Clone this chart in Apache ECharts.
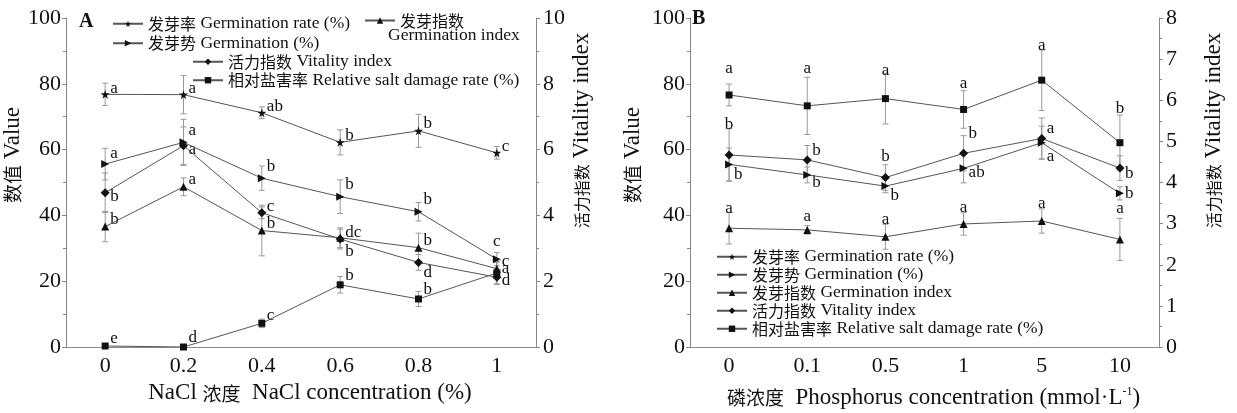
<!DOCTYPE html>
<html>
<head>
<meta charset="utf-8">
<title>Germination under NaCl and phosphorus</title>
<script src="https://cdn.jsdelivr.net/npm/echarts@6/dist/echarts.min.js"></script>
<style>
  html, body { margin: 0; padding: 0; background: #fff; }
  #chart { width: 1237px; height: 413px; }
</style>
</head>
<body>
<div id="chart"></div>
<script>
// series names (shared by both panels so the legends line up)
var N_RATE = '发芽率 Germination rate (%)'
var N_GERM = '发芽势 Germination (%)'
var N_INDEX = '发芽指数 Germination index'
var N_VIT = '活力指数 Vitality index'
var N_SALT = '相对盐害率 Relative salt damage rate (%)'

// ---- panel A: NaCl concentration ----
var naclCats = ['0', '0.2', '0.4', '0.6', '0.8', '1']
var aRate = [76.8, 76.7, 71.2, 62.2, 65.7, 59.0]
var aRateErr = [3.4, 5.8, 1.8, 3.8, 5.0, 1.9]
var aRateSig = ['a', 'a', 'ab', 'b', 'b', 'c']
var aGerm = [55.6, 62.2, 51.3, 45.7, 41.1, 26.7]
var aGermErr = [4.8, 7.0, 3.7, 5.1, 2.8, 2.0]
var aGermSig = ['a', 'a', 'b', 'b', 'b', 'c']
var aIndex = [36.6, 48.7, 35.4, 33.2, 30.2, 23.8]
var aIndexErr = [4.6, 2.7, 7.7, 3.0, 4.4, 2.0]
var aIndexSig = ['b', 'a', 'b', 'b', 'b', 'c']
var aVit = [4.69, 6.12, 4.08, 3.28, 2.57, 2.12] // right axis
var aVitErr = [0.6, 0.57, 0.18, 0.3, 0.24, 0.2]
var aVitSig = ['b', 'a', 'c', 'dc', 'd', 'd']
var aSalt = [0.3, 0, 7.2, 18.9, 14.6, 22.5]
var aSaltErr = [0, 0, 1.3, 2.5, 2.3, 3.5]
var aSaltSig = ['e', 'd', 'c', 'b', 'b', 'a']

// ---- panel B: phosphorus concentration ----
var phosCats = ['0', '0.1', '0.5', '1', '5', '10']
var bSalt = [76.6, 73.3, 75.5, 72.2, 81.1, 62.1]
var bSaltErr = [3.3, 8.7, 7.7, 5.7, 9.2, 8.4]
var bSaltSig = ['a', 'a', 'a', 'a', 'a', 'b']
var bVit = [4.67, 4.55, 4.12, 4.71, 5.07, 4.35] // right axis
var bVitErr = [0.64, 0.35, 0.31, 0.43, 0.5, 0.3]
var bVitSig = ['b', 'b', 'b', 'b', 'a', 'b']
var bGerm = [55.5, 52.3, 48.9, 54.3, 62.1, 46.7]
var bGermErr = [5.0, 2.4, 2.0, 4.4, 5.0, 2.0]
var bGermSig = ['b', 'b', 'b', 'ab', 'a', 'b']
var bIndex = [36.1, 35.6, 33.5, 37.4, 38.3, 32.7]
var bIndexErr = [4.8, 1.3, 3.8, 3.4, 3.7, 6.4]
var bIndexSig = ['a', 'a', 'a', 'a', 'a', 'a']

// where the significance letters sit, relative to each point (px)
// dx 0 = centred, otherwise left-aligned at dx
var posRateA = [[5, -6], [5, -6], [5, -6], [5, -7], [5, -7], [5, -6]]
var posGermA = [[5, -11], [5, -12], [5, -12], [5, -12], [5, -12], [0, -18]]
var posIndexA = [[5, -7], [5, -7], [5, -7], [5, 14], [5, -7], [5, -7]]
var posVitA = [[5, 4], [5, 4], [5, -6], [5, -7], [5, 10], [5, 3]]
var posSaltA = [[5, -7], [5, -9], [5, -8], [5, -9], [5, -9], [5, -4]]
var posSaltB = [[0, -26], [0, -37], [0, -28], [0, -26], [0, -35], [0, -34]]
var posVitB = [[0, -30], [5, -9], [0, -21], [5, -20], [5, -10], [5, 5]]
var posGermB = [[5, 10], [5, 8], [5, 9], [5, 4], [5, 14], [5, 0]]
var posIndexB = [[0, -20], [0, -13], [0, -17], [0, -16], [0, -17], [0, -31]]

var FONT = '"Liberation Serif", "Noto Sans CJK SC", serif'
var CJK = '"Noto Sans CJK SC", sans-serif'
var STAR = 'path://M50,0 L61,35 L98,35 L68,57 L79,91 L50,70 L21,91 L32,57 L2,35 L39,35 Z'

var markers = {}
markers[N_RATE] = { symbol: STAR, size: 9, rotate: 0 }
markers[N_GERM] = { symbol: 'triangle', size: 8, rotate: -90 }
markers[N_INDEX] = { symbol: 'triangle', size: 8, rotate: 0 }
markers[N_VIT] = { symbol: 'diamond', size: 9, rotate: 0 }
markers[N_SALT] = { symbol: 'rect', size: 7, rotate: 0 }

// chinese part of a bilingual label gets its own (smaller) style
function bi(label) {
  var k = label.indexOf(' ')
  return '{c|' + label.slice(0, k) + '}' + label.slice(k)
}

function lineSeries(name, values, grid, yIdx) {
  var m = markers[name]
  return {
    name: name,
    type: 'line',
    xAxisIndex: grid,
    yAxisIndex: yIdx,
    data: values,
    symbol: m.symbol,
    symbolSize: m.size,
    symbolRotate: m.rotate,
    showAllSymbol: true,
    lineStyle: { color: '#555', width: 1 },
    itemStyle: { color: '#111' },
    z: 3,
    animation: false
  }
}

// error bars plus significance letters
function errSeries(values, errs, sigs, pos, grid, yIdx) {
  return {
    type: 'custom',
    xAxisIndex: grid,
    yAxisIndex: yIdx,
    data: values.map(function (v, i) { return [i, v, errs[i]] }),
    encode: { x: 0, y: 1 },
    z: 2,
    silent: true,
    animation: false,
    renderItem: function (params, api) {
      var i = params.dataIndex
      var v = api.value(1)
      var e = api.value(2)
      var c = api.coord([i, v])
      var hi = api.coord([i, v + e])
      var lo = api.coord([i, v - e])
      var st = { stroke: '#999', lineWidth: 1 }
      var kids = []
      if (e > 0) {
        kids.push({ type: 'line', shape: { x1: c[0], y1: hi[1], x2: c[0], y2: lo[1] }, style: st })
        kids.push({ type: 'line', shape: { x1: c[0] - 3, y1: hi[1], x2: c[0] + 3, y2: hi[1] }, style: st })
        kids.push({ type: 'line', shape: { x1: c[0] - 3, y1: lo[1], x2: c[0] + 3, y2: lo[1] }, style: st })
      }
      var o = pos[i]
      kids.push({
        type: 'text',
        style: {
          text: sigs[i],
          x: c[0] + o[0],
          y: c[1] + o[1],
          align: o[0] === 0 ? 'center' : 'left',
          verticalAlign: 'middle',
          font: '17px ' + FONT,
          fill: '#111'
        }
      })
      return { type: 'group', children: kids }
    }
  }
}

function catAxis(grid, cats, name, gap) {
  return {
    type: 'category',
    gridIndex: grid,
    data: cats,
    boundaryGap: true,
    name: name,
    nameLocation: 'middle',
    nameGap: gap,
    nameTextStyle: {
      fontFamily: FONT, fontSize: 23, color: '#111', padding: [0, 0, 0, 18],
      rich: {
        c: { fontFamily: CJK, fontSize: 19, color: '#111' },
        sup: { fontFamily: FONT, fontSize: 12, color: '#111', verticalAlign: 'top', padding: [0, 0, 12, 0] }
      }
    },
    axisLine: { lineStyle: { color: '#888' } },
    axisTick: { inside: true, alignWithLabel: true, length: 6, lineStyle: { color: '#888' } },
    axisLabel: { fontFamily: FONT, fontSize: 22, color: '#111', margin: 8 },
    splitLine: { show: false }
  }
}

function valAxis(grid, pos, max, interval, name, gap, shift, cjkSize) {
  return {
    type: 'value',
    gridIndex: grid,
    position: pos,
    min: 0,
    max: max,
    interval: interval,
    name: name,
    nameLocation: 'middle',
    nameRotate: 90,
    nameGap: gap,
    nameTextStyle: {
      fontFamily: FONT, fontSize: 23, color: '#111', padding: [0, 0, 0, shift],
      rich: { c: { fontFamily: CJK, fontSize: cjkSize, color: '#111' } }
    },
    axisLine: { show: true, lineStyle: { color: '#888' } },
    axisTick: { show: true, length: 4, lineStyle: { color: '#888' } },
    minorTick: { show: true, splitNumber: 2, length: 3, lineStyle: { color: '#888' } },
    axisLabel: { fontFamily: FONT, fontSize: 22, color: '#111', margin: pos === 'left' ? 5 : 7 },
    splitLine: { show: false }
  }
}

var legendBase = {
  orient: 'vertical',
  itemWidth: 30,
  itemHeight: 8,
  padding: 0,
  selectedMode: false,
  formatter: bi,
  textStyle: {
    fontFamily: FONT, fontSize: 17.5, color: '#111', lineHeight: 17,
    rich: { c: { fontFamily: CJK, fontSize: 16, color: '#111', lineHeight: 17 } }
  }
}

var chart = echarts.init(document.getElementById('chart'))

chart.setOption({
  backgroundColor: '#fff',
  grid: [
    { left: 66, right: 701, top: 18, bottom: 66, outerBoundsMode: 'none' },
    { left: 690, right: 78, top: 18, bottom: 66, outerBoundsMode: 'none' }
  ],
  xAxis: [
    catAxis(0, naclCats, 'NaCl {c|浓度}  NaCl concentration (%)', 34),
    catAxis(1, phosCats, '{c|磷浓度}  Phosphorus concentration (mmol·L{sup|-1})', 39)
  ],
  yAxis: [
    valAxis(0, 'left', 100, 20, bi('数值 Value'), 40, 55, 19),
    valAxis(0, 'right', 10, 2, bi('活力指数 Vitality index'), 34, 104, 16),
    valAxis(1, 'left', 100, 20, bi('数值 Value'), 46, 55, 19),
    valAxis(1, 'right', 8, 1, bi('活力指数 Vitality index'), 43, 104, 16)
  ],
  legend: [
    Object.assign({}, legendBase, { data: [N_RATE, N_GERM], left: 112, top: 15, itemGap: 2 }),
    Object.assign({}, legendBase, {
      data: [N_INDEX], left: 364, top: 12,
      formatter: function (name) { return '{c|' + name.split(' ')[0] + '}' }
    }),
    Object.assign({}, legendBase, { data: [N_VIT, N_SALT], left: 192, top: 53, itemGap: 1 }),
    Object.assign({}, legendBase, { data: [N_RATE, N_GERM, N_INDEX, N_VIT, N_SALT], left: 716, top: 248, itemGap: 0.5 })
  ],
  graphic: [
    { type: 'text', left: 79, top: 12, style: { text: 'A', font: 'bold 20px ' + FONT, fill: '#111' } },
    { type: 'text', left: 692, top: 9, style: { text: 'B', font: 'bold 20px ' + FONT, fill: '#111' } },
    { type: 'text', left: 388, top: 27, style: { text: 'Germination index', font: '17.5px ' + FONT, fill: '#111' } }
  ],
  series: [
    errSeries(aRate, aRateErr, aRateSig, posRateA, 0, 0),
    errSeries(aGerm, aGermErr, aGermSig, posGermA, 0, 0),
    errSeries(aIndex, aIndexErr, aIndexSig, posIndexA, 0, 0),
    errSeries(aVit, aVitErr, aVitSig, posVitA, 0, 1),
    errSeries(aSalt, aSaltErr, aSaltSig, posSaltA, 0, 0),
    lineSeries(N_RATE, aRate, 0, 0),
    lineSeries(N_GERM, aGerm, 0, 0),
    lineSeries(N_INDEX, aIndex, 0, 0),
    lineSeries(N_VIT, aVit, 0, 1),
    lineSeries(N_SALT, aSalt, 0, 0),

    errSeries(bSalt, bSaltErr, bSaltSig, posSaltB, 1, 2),
    errSeries(bVit, bVitErr, bVitSig, posVitB, 1, 3),
    errSeries(bGerm, bGermErr, bGermSig, posGermB, 1, 2),
    errSeries(bIndex, bIndexErr, bIndexSig, posIndexB, 1, 2),
    lineSeries(N_RATE, [], 1, 2),
    lineSeries(N_GERM, bGerm, 1, 2),
    lineSeries(N_INDEX, bIndex, 1, 2),
    lineSeries(N_VIT, bVit, 1, 3),
    lineSeries(N_SALT, bSalt, 1, 2)
  ]
})
</script>
</body>
</html>
